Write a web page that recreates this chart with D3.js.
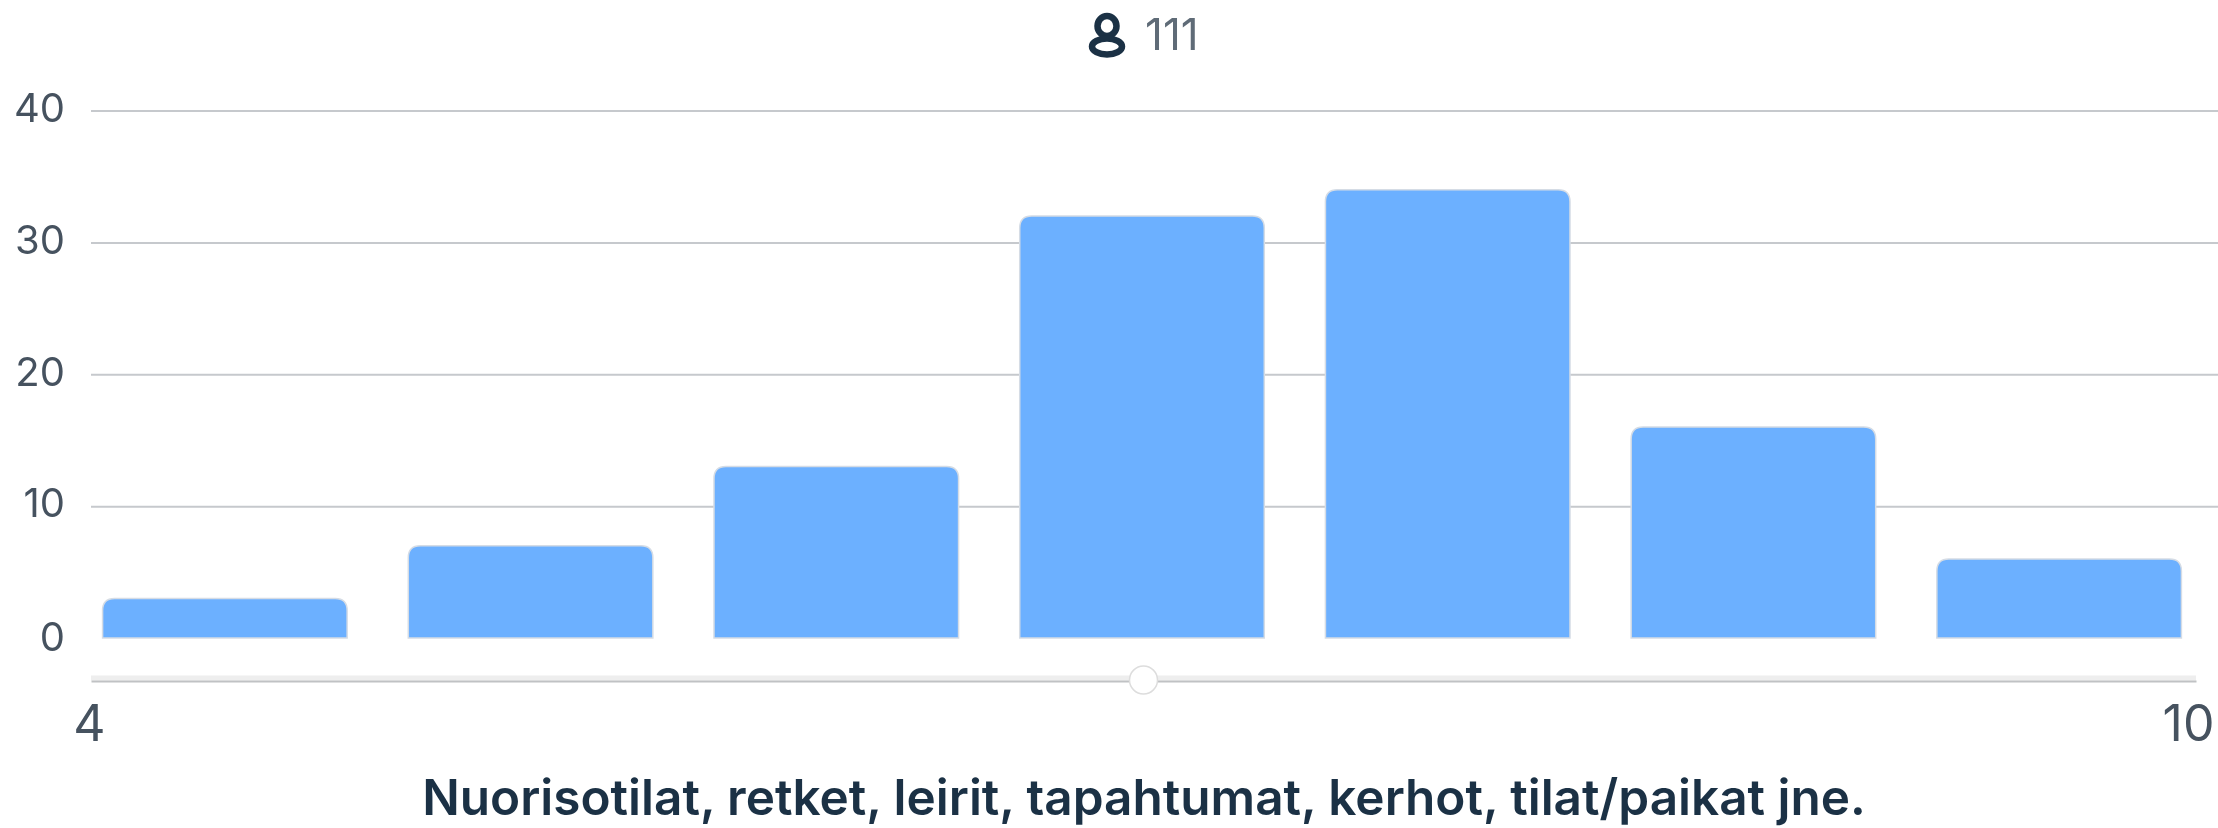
<!DOCTYPE html>
<html>
<head>
<meta charset="utf-8">
<script src="https://cdn.jsdelivr.net/npm/d3@7"></script>
<style>
  html, body { margin: 0; padding: 0; background: #fff; overflow: hidden; }
  text { font-family: Inter, sans-serif; }
  svg { filter: blur(0.6px); }
</style>
</head>
<body>
<svg id="chart"></svg>
<script>
const categories = [4, 5, 6, 7, 8, 9, 10];
const counts = [3, 7, 13, 32, 34, 16, 6];
const yTicks = [0, 10, 20, 30, 40];
const sliderTicks = [4, 10];
const sliderValue = 7;
const respondents = "111";
const title = "Nuorisotilat, retket, leirit, tapahtumat, kerhot, tilat/paikat jne.";

const width = 2218;
const height = 828;
const radius = 12;
const gridColor = "#c6c9cd";
const barColor = "#6cb0ff";
const textColor = "#46525f";
const darkColor = "#1b3145";

const svg = d3.select("#chart")
  .attr("width", width)
  .attr("height", height);

const xScale = d3.scaleBand()
  .domain(categories)
  .range([72, 2212])
  .paddingInner(0.2)
  .paddingOuter(0.1);

const yScale = d3.scaleLinear()
  .domain([0, 40])
  .range([638, 110.5]);

const sliderScale = d3.scaleLinear()
  .domain([4, 10])
  .range([91, 2196]);

// y axis with the grid lines
const yAxis = svg.append("g")
  .attr("transform", "translate(91, 0)")
  .call(d3.axisLeft(yScale).tickValues(yTicks).tickSize(0).tickPadding(26));

yAxis.select(".domain").remove();

yAxis.selectAll(".tick text")
  .attr("fill", textColor)
  .attr("y", d => d === 0 ? 0 : -2)
  .style("font-family", "Inter, sans-serif")
  .style("font-size", "40px");

yAxis.selectAll(".tick")
  .filter(d => d > 0)
  .append("line")
  .attr("x1", 0)
  .attr("x2", width - 91)
  .attr("stroke", gridColor)
  .attr("stroke-width", 2);

// bars, only the top corners are rounded
const barPath = (d, i) => {
  const x0 = xScale(categories[i]);
  const x1 = x0 + xScale.bandwidth();
  const y0 = yScale(0);
  const y1 = yScale(d);
  return `M${x0},${y0}V${y1 + radius}Q${x0},${y1} ${x0 + radius},${y1}`
    + `H${x1 - radius}Q${x1},${y1} ${x1},${y1 + radius}V${y0}Z`;
};

svg.selectAll(".bar")
  .data(counts)
  .enter().append("path")
  .attr("class", "bar")
  .attr("d", barPath)
  .attr("fill", barColor)
  .attr("stroke", "#d5dce5")
  .attr("stroke-width", 1.5);

// slider under the bars
const sliderAxis = svg.append("g")
  .attr("transform", "translate(0, 681)")
  .call(d3.axisBottom(sliderScale).tickValues(sliderTicks).tickSize(0).tickPadding(24).tickFormat(d3.format("d")));

sliderAxis.select(".domain")
  .attr("stroke", "#c0c2c4")
  .attr("stroke-width", 2);

sliderAxis.insert("line", ".domain")
  .attr("x1", sliderScale(4))
  .attr("x2", sliderScale(10))
  .attr("y1", -3)
  .attr("y2", -3)
  .attr("stroke", "#eeeeee")
  .attr("stroke-width", 5);

sliderAxis.selectAll(".tick text")
  .attr("fill", textColor)
  .style("font-family", "Inter, sans-serif")
  .style("font-size", "50px")
  .attr("dx", d => d === 10 ? -8 : -2);

svg.append("circle")
  .attr("cx", sliderScale(sliderValue))
  .attr("cy", 680)
  .attr("r", 14)
  .attr("fill", "#fff")
  .attr("stroke", "#dddddd")
  .attr("stroke-width", 1.5);

// respondent count at the top
const icon = svg.append("g")
  .attr("fill", "none")
  .attr("stroke", darkColor)
  .attr("stroke-width", 6.5);

icon.append("ellipse")
  .attr("cx", 1107)
  .attr("cy", 26)
  .attr("rx", 9.5)
  .attr("ry", 10);

icon.append("ellipse")
  .attr("cx", 1107)
  .attr("cy", 46.5)
  .attr("rx", 15)
  .attr("ry", 8);

svg.append("text")
  .attr("x", 1145)
  .attr("y", 50)
  .attr("fill", "#5f6b77")
  .style("font-size", "44px")
  .style("font-weight", 400)
  .text(respondents);

svg.append("text")
  .attr("x", 1144)
  .attr("y", 815)
  .attr("text-anchor", "middle")
  .attr("fill", darkColor)
  .style("font-size", "49.5px")
  .style("font-weight", 600)
  .text(title);
</script>
</body>
</html>
